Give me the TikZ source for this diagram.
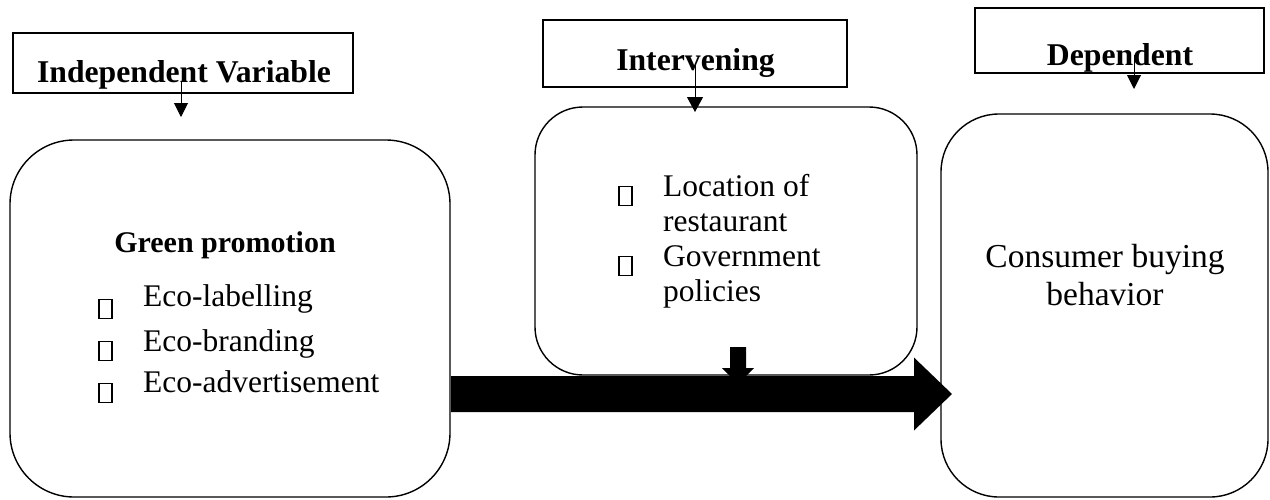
\documentclass[tikz,border=0pt]{standalone}
\usepackage{fontspec}
\setmainfont{Liberation Serif}
\usetikzlibrary{arrows.meta,calc}
\begin{document}
\begin{tikzpicture}[x=1pt,y=-1pt,
  hdrbox/.style={draw, line width=1.4pt, inner sep=0pt, rectangle},
  hdrtext/.style={font=\fontsize{31.7}{36}\selectfont\bfseries, inner sep=0pt, anchor=base},
  rbox/.style={draw, line width=1.4pt, inner sep=0pt, rectangle},
  bodytext/.style={font=\fontsize{31.5}{36}\selectfont, inner sep=0pt, anchor=base west},
  ctrtext/.style={font=\fontsize{33.5}{36}\selectfont, inner sep=0pt, anchor=base},
  boldtext/.style={font=\fontsize{30}{30}\selectfont\bfseries, inner sep=0pt, anchor=base},
  sq/.style={draw, line width=1.1pt, inner sep=0pt, minimum width=13pt, minimum height=19pt},
  thinarrow/.style={line width=1pt, -{Triangle[width=14pt,length=14pt]}}
]
\useasboundingbox (0,0) rectangle (1270,499);

% header boxes
\node[hdrbox, minimum width=340pt, minimum height=60pt] (h1) at (183,63) {};
\node[hdrtext] (h1t) at (184,82) {Independent Variable};
\node[hdrbox, minimum width=304pt, minimum height=67pt] (h2) at (695,53.5) {};
\node[hdrtext] (h2t) at (695.5,70) {Intervening};
\node[hdrbox, minimum width=289pt, minimum height=65pt] (h3) at (1119.5,40.5) {};
\node[hdrtext] (h3t) at (1120,65) {Dependent};

% small arrows
\coordinate (a1s) at (181,82); \coordinate (a1e) at (181,117);
\coordinate (a2s) at (695,65); \coordinate (a2e) at (695,112);
\coordinate (a3s) at (1134,55); \coordinate (a3e) at (1134,89);
\draw[thinarrow] (a1s) -- (a1e);
\draw[line width=1pt, -{Triangle[width=16pt,length=15pt]}] (a2s) -- (a2e);
\draw[thinarrow] (a3s) -- (a3e);

% rounded boxes
\node[rbox, minimum width=440pt, minimum height=357pt, rounded corners=64pt] (L) at (230,318.5) {};
\node[rbox, minimum width=382pt, minimum height=268pt, rounded corners=48pt] (M) at (726,241) {};
\node[rbox, minimum width=327pt, minimum height=383pt, rounded corners=58pt] (R) at (1104.5,305.5) {};

% left box content
\node[boldtext] (gp) at (225,252) {Green promotion};
\node[sq] (s1) at (105.5,309) {};
\node[sq] (s2) at (105.5,351) {};
\node[sq] (s3) at (105.5,393) {};
\node[bodytext] (e1) at (143,306) {Eco-labelling};
\node[bodytext] (e2) at (143,351) {Eco-branding};
\node[bodytext] (e3) at (143,392) {Eco-advertisement};

% middle box content
\node[sq] (m1) at (625.5,196) {};
\node[bodytext] (l1) at (663,196) {Location of};
\node[bodytext] (l2) at (663,231) {restaurant};
\node[sq] (m2) at (625.5,266) {};
\node[bodytext] (l3) at (663,266) {Government};
\node[bodytext] (l4) at (663,301) {policies};

% right box content
\node[ctrtext] (c1) at (1105,267) {Consumer buying};
\node[ctrtext] (c2) at (1105,305) {behavior};

% small block arrow (intervening -> main arrow)
\coordinate (ks) at (738,347);
\fill[black] ($(ks)+(-8,0)$) -- ($(ks)+(8,0)$) -- ($(ks)+(8,21)$) -- ($(ks)+(16,21)$)
  -- ($(ks)+(0,37)$) -- ($(ks)+(-16,21)$) -- ($(ks)+(-8,21)$) -- cycle;

% big arrow from left box to right box
\coordinate (bs) at (451,394);
\coordinate (be) at (952,394);
\fill[black] ($(bs)+(0,-18)$) -- ($(be)+(-38,-18)$) -- ($(be)+(-38,-36.5)$) -- (be)
  -- ($(be)+(-38,36.5)$) -- ($(be)+(-38,18)$) -- ($(bs)+(0,18)$) -- cycle;
\end{tikzpicture}
\end{document}
